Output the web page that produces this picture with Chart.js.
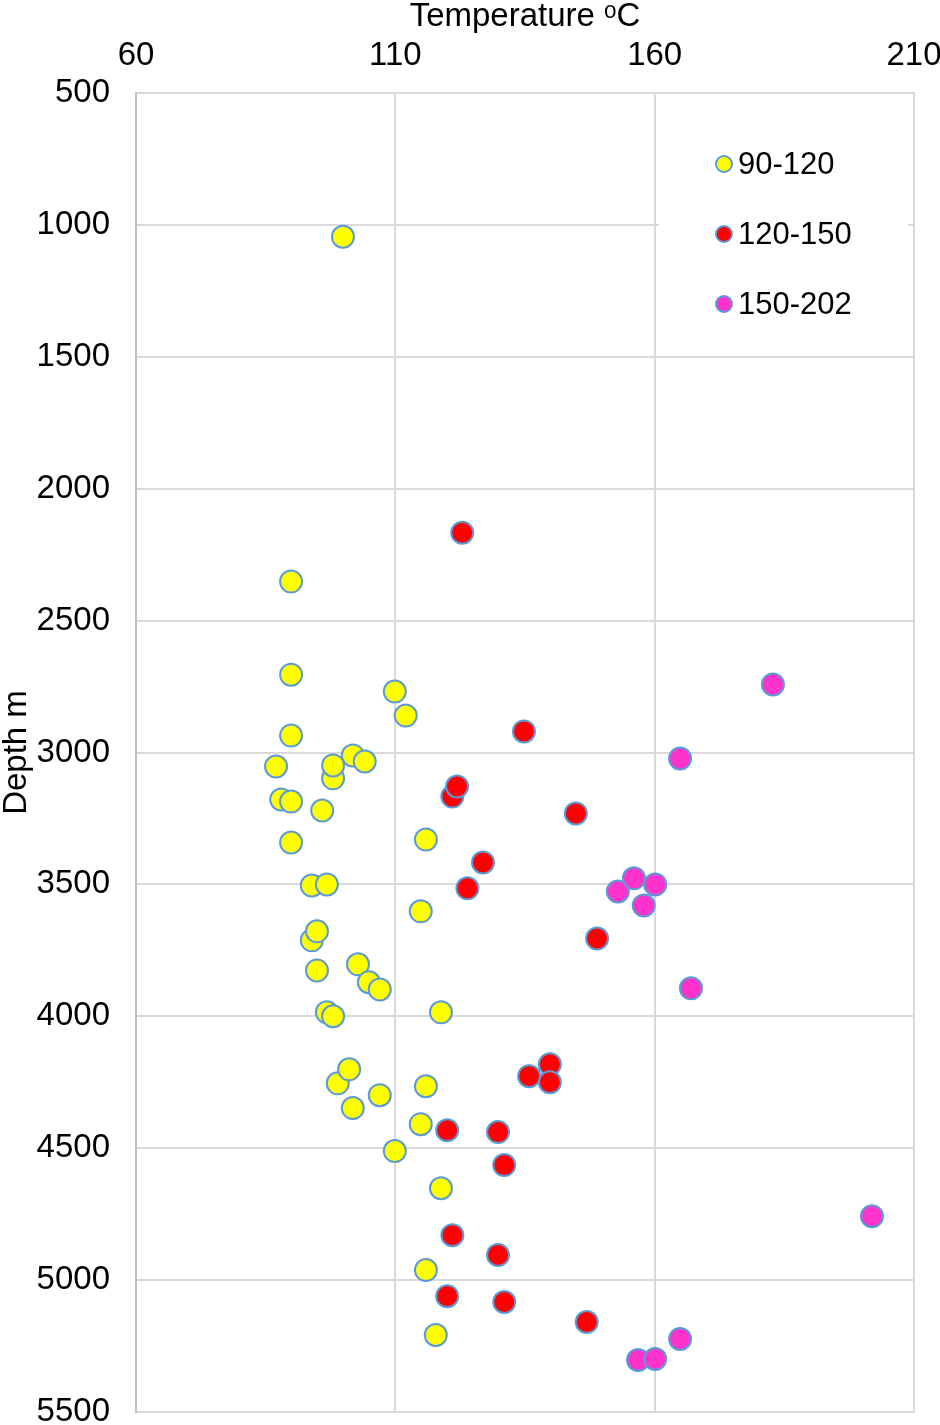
<!DOCTYPE html>
<html>
<head>
<meta charset="utf-8">
<script src="https://cdn.jsdelivr.net/npm/chart.js@4/dist/chart.umd.min.js"></script>
<style>
  html, body { margin: 0; padding: 0; background: #fff; }
  #wrap { width: 940px; height: 1425px; }
</style>
</head>
<body>
<div id="wrap"><canvas id="tempChart" width="940" height="1425"></canvas></div>
<script>
// ========== Data ==========
const seriesNames = ['90-120', '120-150', '150-202'];
const xTicks = [60, 110, 160, 210];
const yTicks = [500, 1000, 1500, 2000, 2500, 3000, 3500, 4000, 4500, 5000, 5500];

// temperature (°C) and depth (m), one pair of arrays per series
const tempLow = [99.9, 89.9, 89.9, 109.9, 112.0, 89.9, 101.8, 104.1, 98.0, 98.0,
  87.0, 88.0, 89.9, 95.9, 115.9, 89.9, 93.9, 96.8, 114.9, 93.9,
  94.9, 94.9, 102.8, 104.9, 107.0, 96.8, 98.0, 118.8, 98.9, 101.1,
  115.9, 107.0, 101.8, 114.9, 109.9, 118.8, 115.9, 117.8];
const depthLow = [1045, 2352, 2705, 2769, 2860, 2936, 3011, 3034, 3098, 3049,
  3053, 3178, 3186, 3220, 3330, 3341, 3504, 3500, 3602, 3712,
  3678, 3826, 3803, 3871, 3898, 3985, 4000, 3985, 4254, 4201,
  4265, 4299, 4348, 4409, 4511, 4652, 4962, 5208];

const tempMid = [122.9, 134.8, 121.0, 121.9, 144.8, 126.9, 123.9, 148.9, 139.8, 135.8,
  139.8, 120.0, 129.8, 131.0, 121.0, 129.8, 120.0, 131.0, 146.9];
const depthMid = [2167, 2920, 3167, 3129, 3231, 3417, 3515, 3705, 4182, 4227,
  4250, 4432, 4439, 4564, 4830, 4905, 5061, 5083, 5159];

const tempHigh = [182.8, 164.9, 152.9, 156.0, 160.1, 157.9, 167.0, 201.9, 164.9, 156.8, 160.1];
const depthHigh = [2742, 3023, 3527, 3477, 3500, 3580, 3894, 4758, 5223, 5303, 5299];

const fillColors = ['#FFFF00', '#FF0000', '#FF33CC'];
const edgeColor = '#5B9BD5';
const fontFamily = '"Liberation Sans", Arial, sans-serif';

function toPoints(xs, ys) {
  return xs.map((x, i) => ({ x: x, y: ys[i] }));
}

// ========== Legend drawn inside the plot ==========
const insideLegend = {
  id: 'insideLegend',
  afterDraw(chart) {
    const ctx = chart.ctx;
    ctx.save();
    ctx.fillStyle = '#fff';
    ctx.fillRect(659, 130, 249, 200);
    ctx.font = '31px ' + fontFamily;
    ctx.textBaseline = 'middle';
    ctx.textAlign = 'left';
    chart.data.datasets.forEach((ds, i) => {
      const y = 164 + i * 70;
      ctx.beginPath();
      ctx.arc(724, y, 8, 0, Math.PI * 2);
      ctx.fillStyle = ds.backgroundColor;
      ctx.fill();
      ctx.lineWidth = 2;
      ctx.strokeStyle = ds.borderColor;
      ctx.stroke();
      ctx.fillStyle = '#000';
      ctx.fillText(ds.label, 738, y + 1);
    });
    ctx.restore();
  }
};

// ========== Chart ==========
const ctx = document.getElementById('tempChart').getContext('2d');
const tempChart = new Chart(ctx, {
  type: 'scatter',
  data: {
    datasets: [
      { label: seriesNames[0], data: toPoints(tempLow, depthLow) },
      { label: seriesNames[1], data: toPoints(tempMid, depthMid) },
      { label: seriesNames[2], data: toPoints(tempHigh, depthHigh) }
    ].map((ds, i) => Object.assign(ds, {
      backgroundColor: fillColors[i],
      borderColor: edgeColor,
      borderWidth: 2,
      pointRadius: 11,
      pointHoverRadius: 11,
      order: 2 - i
    }))
  },
  options: {
    responsive: false,
    animation: false,
    layout: { padding: { top: 0, left: 0, right: 26, bottom: 12 } },
    plugins: {
      legend: { display: false },
      tooltip: { enabled: false }
    },
    scales: {
      x: {
        type: 'linear',
        position: 'top',
        min: 60,
        max: 210,
        afterBuildTicks: s => { s.ticks = xTicks.map(v => ({ value: v })); },
        afterFit: s => { s.height = 93; s.paddingLeft = 0; s.paddingRight = 0; },
        ticks: {
          color: '#000',
          padding: 17,
          callback: v => String(v),
          font: { family: fontFamily, size: 33, lineHeight: 1.2 }
        },
        grid: { color: '#d9d9d9', lineWidth: 2, drawTicks: false },
        border: { color: '#d9d9d9', width: 2 },
        title: {
          display: true,
          text: 'Temperature ᵒC',
          color: '#000',
          padding: { top: 0, bottom: 0 },
          font: { family: fontFamily, size: 33, lineHeight: 1 }
        }
      },
      y: {
        type: 'linear',
        reverse: true,
        min: 500,
        max: 5500,
        afterBuildTicks: s => { s.ticks = yTicks.map(v => ({ value: v })); },
        afterFit: s => { s.width = 136; s.paddingTop = 0; s.paddingBottom = 0; },
        ticks: {
          color: '#000',
          padding: 26,
          callback: v => String(v),
          font: { family: fontFamily, size: 33, lineHeight: 0.8 }
        },
        grid: { color: '#d9d9d9', lineWidth: 2, drawTicks: false },
        border: { color: '#bfbfbf', width: 2 },
        title: {
          display: true,
          text: 'Depth m',
          color: '#000',
          padding: { top: 0, bottom: 0 },
          font: { family: fontFamily, size: 33, lineHeight: 1 }
        }
      }
    }
  },
  plugins: [insideLegend]
});
</script>
</body>
</html>
